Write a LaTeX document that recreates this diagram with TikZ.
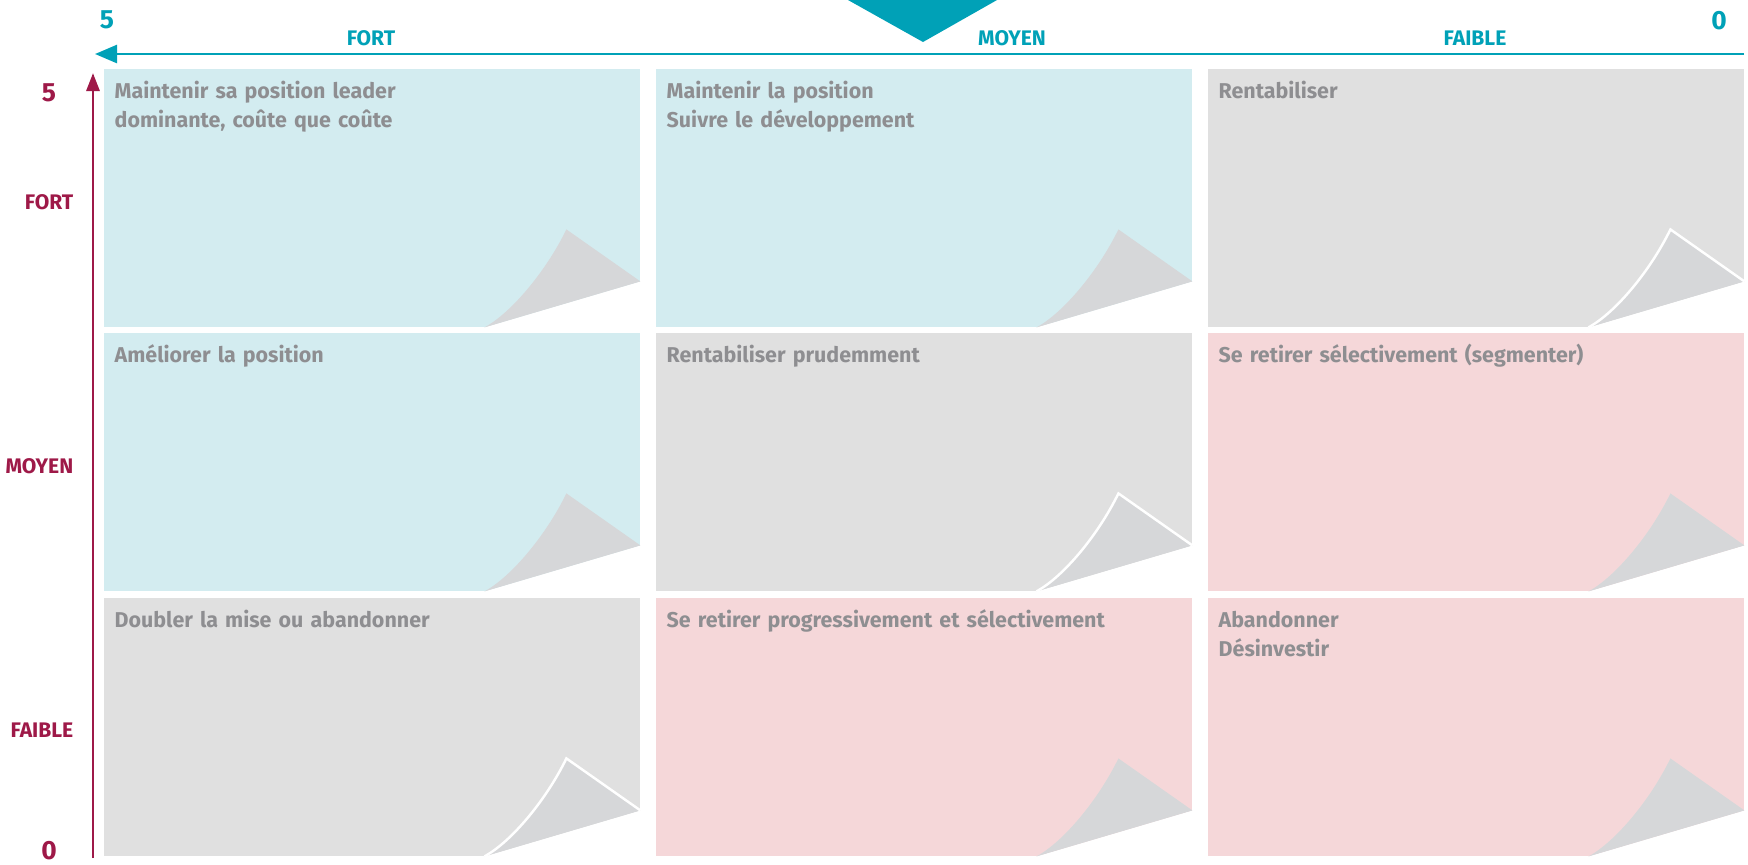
\documentclass[tikz,border=0pt]{standalone}
\usepackage{fontspec}
\setmainfont{Fira Sans}
\usetikzlibrary{arrows.meta,calc}

\definecolor{axisteal}{RGB}{0,161,183}
\definecolor{axisred}{RGB}{158,25,72}
\definecolor{cellblue}{RGB}{211,236,240}
\definecolor{cellgray}{RGB}{224,224,224}
\definecolor{cellpink}{RGB}{245,215,217}
\definecolor{curlgray}{RGB}{214,215,217}
\definecolor{textgray}{RGB}{142,142,145}

% page curl at the lower right corner of a cell
\newcommand{\pagecurl}[2]{%
	\fill [white] ($(#1)+(-156,0)$) -- ($(#1)+(0,-46)$) -- (#1) -- cycle;
	\filldraw [curl, draw=#2] ($(#1)+(-156,0)$) .. controls ($(#1)+(-130,-14)$) and ($(#1)+(-95,-55)$) .. ($(#1)+(-74,-98)$) -- ($(#1)+(0,-46)$);
}

\begin{document}
\begin{tikzpicture}[x=0.1mm, y=-0.1mm,
	cell/.style={anchor=north west, inner sep=0, minimum width=53.6mm, minimum height=25.8mm},
	celltext/.style={anchor=base west, inner sep=0, text width=50mm, align=left, text=textgray, font=\fontsize{6.1}{8.5}\selectfont\bfseries},
	curl/.style={fill=curlgray, line width=0.7pt},
	toplabel/.style={inner sep=0, text=axisteal, font=\fontsize{6}{7}\selectfont\bfseries},
	sidelabel/.style={inner sep=0, anchor=east, text=axisred, font=\fontsize{6}{7}\selectfont\bfseries},
	bignum/.style={inner sep=0, font=\fontsize{7.5}{9}\selectfont\bfseries}]
	\useasboundingbox (0,0) rectangle (1748,864);

	% cells
	\node [cell, fill=cellblue] (c11) at (103,68) {};
	\node [cell, fill=cellblue] (c12) at (655,68) {};
	\node [cell, fill=cellgray] (c13) at (1207,68) {};
	\node [cell, fill=cellblue] (c21) at (103,332) {};
	\node [cell, fill=cellgray] (c22) at (655,332) {};
	\node [cell, fill=cellpink] (c23) at (1207,332) {};
	\node [cell, fill=cellgray] (c31) at (103,597) {};
	\node [cell, fill=cellpink] (c32) at (655,597) {};
	\node [cell, fill=cellpink] (c33) at (1207,597) {};

	% curls
	\pagecurl{c11.south east}{none}
	\pagecurl{c12.south east}{none}
	\pagecurl{c13.south east}{white}
	\pagecurl{c21.south east}{none}
	\pagecurl{c22.south east}{white}
	\pagecurl{c23.south east}{none}
	\pagecurl{c31.south east}{white}
	\pagecurl{c32.south east}{none}
	\pagecurl{c33.south east}{none}

	% texts
	\node [celltext] (t11) at ($(c11.north west)+(11,30)$) {Maintenir sa position leader\\dominante, coûte que coûte};
	\node [celltext] (t12) at ($(c12.north west)+(11,30)$) {Maintenir la position\\Suivre le développement};
	\node [celltext] (t13) at ($(c13.north west)+(11,30)$) {Rentabiliser};
	\node [celltext] (t21) at ($(c21.north west)+(11,30)$) {Améliorer la position};
	\node [celltext] (t22) at ($(c22.north west)+(11,30)$) {Rentabiliser prudemment};
	\node [celltext] (t23) at ($(c23.north west)+(11,30)$) {Se retirer sélectivement (segmenter)};
	\node [celltext] (t31) at ($(c31.north west)+(11,30)$) {Doubler la mise ou abandonner};
	\node [celltext] (t32) at ($(c32.north west)+(11,30)$) {Se retirer progressivement et sélectivement};
	\node [celltext] (t33) at ($(c33.north west)+(11,30)$) {Abandonner\\Désinvestir};

	% horizontal axis
	\fill [axisteal] (848,0) -- (997,0) -- (923,42) -- cycle;
	\coordinate (xstart) at (1744,54);
	\coordinate (xend) at (95,54);
	\draw [axisteal, line width=0.7pt, -{Triangle[length=2.2mm, width=1.8mm]}] (xstart) -- (xend);
	\node [bignum, text=axisteal] (x5) at (107,20) {5};
	\node [bignum, text=axisteal] (x0) at (1719,21) {0};
	\node [toplabel] (xfort) at (371,38) {FORT};
	\node [toplabel] (xmoyen) at (1012,38) {MOYEN};
	\node [toplabel] (xfaible) at (1475,38) {FAIBLE};

	% vertical axis
	\coordinate (ystart) at (93,858);
	\coordinate (yend) at (93,73);
	\draw [axisred, line width=0.85pt, -{Triangle[length=1.8mm, width=1.3mm]}] (ystart) -- (yend);
	\node [bignum, text=axisred] (y5) at (49,93) {5};
	\node [bignum, text=axisred] (y0) at (49,851) {0};
	\node [sidelabel] (yfort) at (74,202) {FORT};
	\node [sidelabel] (ymoyen) at (74,466) {MOYEN};
	\node [sidelabel] (yfaible) at (74,730) {FAIBLE};
\end{tikzpicture}
\end{document}
